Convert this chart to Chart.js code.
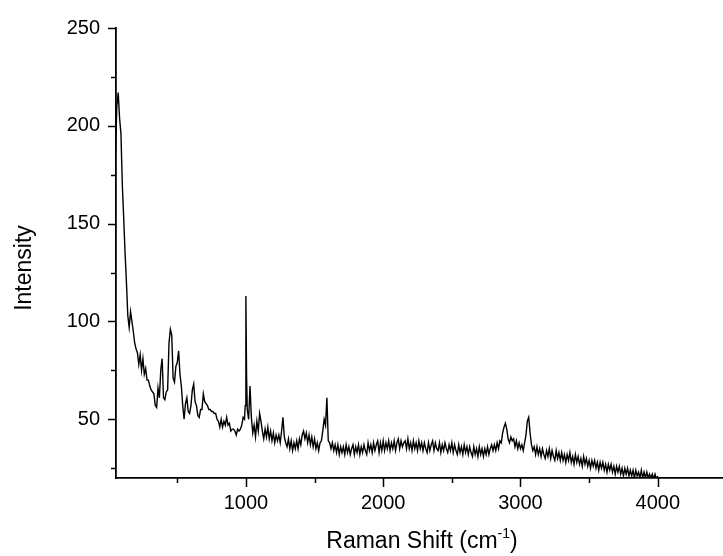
<!DOCTYPE html>
<html>
<head>
<meta charset="utf-8">
<script src="https://cdn.jsdelivr.net/npm/chart.js@4"></script>
<style>
  html, body { margin: 0; padding: 0; background: #fff; overflow: hidden; }
  #wrap { position: relative; width: 723px; height: 556px; }
</style>
</head>
<body>
<div id="wrap"><canvas id="raman"></canvas></div>
<script>
// Raman spectrum

const shift = [
  50, 60, 70, 80, 90,
  100, 110, 120, 130, 140, 150, 160, 170, 180, 190,
  200, 210, 220, 230, 240, 250, 260, 270, 280, 290,
  300, 310, 320, 330, 340, 350, 360, 370, 380, 390,
  400, 410, 420, 430, 440, 450, 460, 470, 480, 490,
  500, 510, 520, 530, 540, 550, 560, 570, 580, 590,
  600, 610, 620, 630, 640, 650, 660, 670, 680, 690,
  700, 710, 720, 730, 740, 750, 760, 770, 780, 790,
  800, 810, 820, 830, 840, 850, 860, 870, 880, 890,
  900, 910, 920, 930, 940, 950, 960, 970, 980, 990, 995,
  1000, 1005, 1010, 1020, 1030, 1040, 1050, 1060, 1070, 1080, 1090,
  1100, 1110, 1120, 1130, 1140, 1150, 1160, 1170, 1180, 1190,
  1200, 1210, 1220, 1230, 1240, 1250, 1260, 1270, 1280, 1290,
  1300, 1310, 1320, 1330, 1340, 1350, 1360, 1370, 1380, 1390,
  1400, 1410, 1420, 1430, 1440, 1450, 1460, 1470, 1480, 1490,
  1500, 1510, 1520, 1530, 1540, 1550, 1560, 1570, 1580, 1590,
  1600, 1610, 1620, 1630, 1640, 1650, 1660, 1670, 1680, 1690,
  1700, 1710, 1720, 1730, 1740, 1750, 1760, 1770, 1780, 1790,
  1800, 1810, 1820, 1830, 1840, 1850, 1860, 1870, 1880, 1890,
  1900, 1910, 1920, 1930, 1940, 1950, 1960, 1970, 1980, 1990,
  2000, 2010, 2020, 2030, 2040, 2050, 2060, 2070, 2080, 2090,
  2100, 2110, 2120, 2130, 2140, 2150, 2160, 2170, 2180, 2190,
  2200, 2210, 2220, 2230, 2240, 2250, 2260, 2270, 2280, 2290,
  2300, 2310, 2320, 2330, 2340, 2350, 2360, 2370, 2380, 2390,
  2400, 2410, 2420, 2430, 2440, 2450, 2460, 2470, 2480, 2490,
  2500, 2510, 2520, 2530, 2540, 2550, 2560, 2570, 2580, 2590,
  2600, 2610, 2620, 2630, 2640, 2650, 2660, 2670, 2680, 2690,
  2700, 2710, 2720, 2730, 2740, 2750, 2760, 2770, 2780, 2790,
  2800, 2810, 2820, 2830, 2840, 2850, 2860, 2870, 2880, 2890,
  2900, 2910, 2920, 2930, 2940, 2950, 2960, 2970, 2980, 2990,
  3000, 3010, 3020, 3030, 3040, 3050, 3060, 3070, 3080, 3090,
  3100, 3110, 3120, 3130, 3140, 3150, 3160, 3170, 3180, 3190,
  3200, 3210, 3220, 3230, 3240, 3250, 3260, 3270, 3280, 3290,
  3300, 3310, 3320, 3330, 3340, 3350, 3360, 3370, 3380, 3390,
  3400, 3410, 3420, 3430, 3440, 3450, 3460, 3470, 3480, 3490,
  3500, 3510, 3520, 3530, 3540, 3550, 3560, 3570, 3580, 3590,
  3600, 3610, 3620, 3630, 3640, 3650, 3660, 3670, 3680, 3690,
  3700, 3710, 3720, 3730, 3740, 3750, 3760, 3770, 3780, 3790,
  3800, 3810, 3820, 3830, 3840, 3850, 3860, 3870, 3880, 3890,
  3900, 3910, 3920, 3930, 3940, 3950, 3960, 3970, 3980, 3990,
  4000
];

const intensity = [
  186, 210, 217, 204, 196,
  170, 153, 135, 120, 103, 97, 105, 100, 95, 89,
  86, 84, 78, 83, 75, 81, 73, 76, 70, 70,
  67, 65, 64, 63, 57, 56, 66, 61, 75, 81,
  61, 60, 64, 65, 89, 96, 93, 71, 69, 77,
  79, 85, 73, 67, 57, 50, 58, 61, 54, 53,
  57, 65, 68, 59, 57, 52, 51, 55, 55, 63,
  59, 58, 57, 55, 55, 54, 54, 53, 53, 50,
  49, 46, 50, 46, 49, 47, 51, 47, 48, 44,
  45, 45, 44, 42, 45, 44, 45, 47, 51, 50, 57,
  113, 72, 55, 50, 67, 51, 43, 47, 41, 49, 44,
  53, 49, 44, 40, 45, 41, 46, 40, 44, 39,
  43, 38, 42, 39, 42, 38, 44, 51, 41, 38,
  36, 40, 35, 39, 34, 38, 35, 39, 35, 40,
  37, 42, 44, 40, 43, 38, 42, 37, 41, 36,
  40, 35, 38, 34, 38, 39, 44, 50, 47, 61,
  39, 38, 35, 38, 34, 37, 33, 37, 32, 36,
  33, 36, 32, 37, 33, 36, 32, 35, 37, 32,
  36, 33, 37, 32, 36, 33, 37, 34, 32, 38,
  34, 37, 33, 38, 34, 37, 39, 33, 38, 34,
  39, 34, 38, 35, 39, 34, 38, 35, 39, 34,
  38, 40, 35, 39, 36, 38, 39, 35, 40, 35,
  38, 34, 39, 35, 38, 34, 39, 35, 38, 34,
  38, 35, 33, 38, 34, 37, 39, 34, 38, 35,
  34, 38, 33, 37, 34, 38, 35, 33, 37, 34,
  38, 33, 37, 34, 32, 37, 33, 36, 32, 37,
  33, 36, 32, 36, 33, 31, 36, 32, 35, 31,
  36, 32, 35, 31, 35, 32, 36, 32, 35, 37,
  34, 37, 34, 38, 35, 39, 38, 43, 46, 48,
  45, 40, 38, 41, 39, 40, 36, 39, 35, 38,
  35, 37, 34, 38, 42, 49, 51, 43, 37, 34,
  36, 32, 36, 32, 35, 31, 35, 32, 30, 34,
  31, 35, 30, 34, 31, 29, 34, 30, 33, 29,
  33, 29, 32, 28, 32, 29, 33, 28, 31, 27,
  32, 28, 31, 27, 30, 26, 31, 27, 30, 26,
  29, 25, 29, 26, 29, 25, 28, 24, 28, 25,
  28, 24, 27, 23, 27, 24, 27, 23, 26, 22,
  26, 23, 26, 22, 25, 21, 25, 22, 25, 21,
  24, 21, 24, 20, 24, 21, 23, 20, 24, 20,
  23, 20, 23, 20, 22, 20, 22, 19.5, 22, 19.5,
  21
];

// tick values: every 500 on x (labels on 1000s), every 25 on y (labels on 50s)
const xTicks = [500, 1000, 1500, 2000, 2500, 3000, 3500, 4000];
const yTicks = [25, 50, 75, 100, 125, 150, 175, 200, 225, 250];

const FONT = '"Liberation Sans", Arial, sans-serif';

// draws the outward tick marks (long for labelled, short for minor) and the axis titles
const axisDecor = {
  id: 'axisDecor',
  afterDraw(chart) {
    const c = chart.ctx;
    const xs = chart.scales.x, ys = chart.scales.y;
    const area = chart.chartArea;
    c.save();
    c.strokeStyle = '#000';
    c.lineWidth = 1.5;
    c.beginPath();
    xTicks.forEach(v => {
      const px = Math.round(xs.getPixelForValue(v)) + 0.5;
      const len = v % 1000 === 0 ? 9 : 5;
      c.moveTo(px, area.bottom);
      c.lineTo(px, area.bottom + len);
    });
    yTicks.forEach(v => {
      const py = Math.round(ys.getPixelForValue(v)) + 0.5;
      const len = v % 50 === 0 ? 8 : 5;
      c.moveTo(area.left, py);
      c.lineTo(area.left - len, py);
    });
    c.stroke();

    // y title
    c.fillStyle = '#000';
    c.font = '23px ' + FONT;
    c.textAlign = 'center';
    c.textBaseline = 'alphabetic';
    c.save();
    c.translate(31, 268);
    c.rotate(-Math.PI / 2);
    c.fillText('Intensity', 0, 0);
    c.restore();

    // x title with superscript -1
    const main = 'Raman Shift (cm';
    const sup = '-1';
    const tail = ')';
    c.font = '23px ' + FONT;
    const wMain = c.measureText(main).width;
    const wTail = c.measureText(tail).width;
    c.font = '14px ' + FONT;
    const wSup = c.measureText(sup).width;
    const total = wMain + wSup + wTail;
    let x0 = 422 - total / 2;
    const base = 548;
    c.textAlign = 'left';
    c.font = '23px ' + FONT;
    c.fillText(main, x0, base);
    c.font = '14px ' + FONT;
    c.fillText(sup, x0 + wMain, base - 10);
    c.font = '23px ' + FONT;
    c.fillText(tail, x0 + wMain + wSup, base);
    c.restore();
  }
};

const points = shift.map((s, i) => ({ x: s, y: intensity[i] }));

new Chart(document.getElementById('raman'), {
  type: 'scatter',
  data: {
    datasets: [{
      data: points,
      showLine: true,
      borderColor: '#000',
      borderWidth: 1.4,
      pointRadius: 0,
      tension: 0
    }]
  },
  options: {
    responsive: true,
    maintainAspectRatio: false,
    animation: false,
    layout: { padding: { top: 27, right: 0, left: 0, bottom: 0 } },
    plugins: { legend: { display: false }, tooltip: { enabled: false } },
    scales: {
      x: {
        type: 'linear',
        min: 54,
        max: 4475,
        afterBuildTicks: s => { s.ticks = xTicks.map(v => ({ value: v })); },
        afterFit: s => { s.height = 78; },
        grid: { display: false, drawTicks: false },
        border: { display: true, color: '#000', width: 1.8 },
        ticks: {
          autoSkip: false,
          maxRotation: 0,
          padding: 13,
          color: '#000',
          font: { family: FONT, size: 20 },
          callback: v => (v % 1000 === 0 ? String(v) : '')
        }
      },
      y: {
        type: 'linear',
        min: 20,
        max: 250,
        afterBuildTicks: s => { s.ticks = yTicks.map(v => ({ value: v })); },
        afterFit: s => { s.width = 116; },
        grid: { display: false, drawTicks: false },
        border: { display: true, color: '#000', width: 1.8 },
        ticks: {
          autoSkip: false,
          padding: 16,
          color: '#000',
          font: { family: FONT, size: 20 },
          callback: v => (v % 50 === 0 ? String(v) : '')
        }
      }
    }
  },
  plugins: [axisDecor]
});
</script>
</body>
</html>
